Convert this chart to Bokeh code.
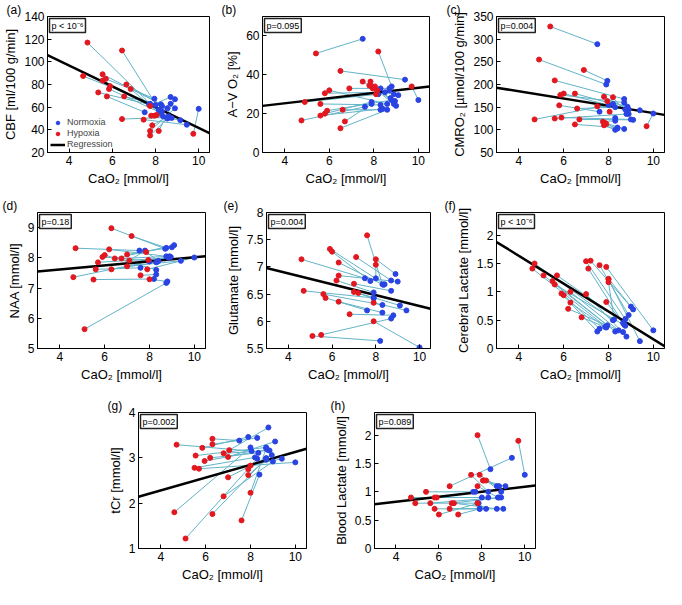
from bokeh.plotting import figure
from bokeh.models import Label, Legend, LegendItem, FixedTicker, Range1d
from bokeh.layouts import column, row
from bokeh.embed import file_html
from bokeh.resources import INLINE

# ---------------- data ----------------
x_ticks = [4, 6, 8, 10]
x_label = "CaO₂ [mmol/l]"

# (a) CBF
a_hx = [4.85, 6.45, 4.65, 5.55, 5.55, 5.7, 5.9, 5.85, 5.35, 5.75, 6.65, 6.85, 6.55, 6.45, 7.45, 7.75, 7.8, 7.85, 7.75, 7.75, 8.15, 7.95, 8.05, 9.75]
a_hy = [117, 110, 87.5, 89, 83.5, 85, 78.5, 76, 73, 69.5, 80, 76, 69.5, 49.5, 49, 61, 52.5, 44, 39, 35, 39, 52.5, 53, 36.5]
a_nx = [7.75, 8.2, 8.0, 8.25, 8.3, 7.95, 8.15, 8.25, 7.7, 7.5, 8.55, 8.35, 8.3, 8.65, 9.45, 8.7, 8.7, 8.6, 8.9, 8.55, 8.9, 9.15, 8.75, 10.0]
a_ny = [63, 57, 62, 62.5, 56, 67.5, 57.5, 55, 62.5, 55.5, 59, 52, 61, 51, 44.5, 69, 63, 52, 59, 50, 67, 48.5, 50.5, 58.5]
a_reg = [106, 37]
a_yticks = [20, 40, 60, 80, 100, 120, 140]

# (b) A-V O2
b_hx = [5.4, 8.2, 6.5, 4.75, 4.9, 5.6, 5.8, 6.0, 6.9, 7.5, 5.6, 5.8, 5.9, 6.6, 6.7, 6.5, 7.85, 7.9, 7.95, 8.05, 8.15, 8.1, 9.7, 7.8]
b_hy = [51, 52, 42, 16.5, 26, 25, 30.5, 32, 33, 36.5, 19, 20, 21.5, 22, 16, 12.5, 36.5, 34, 33, 34, 32, 30, 34, 34.5]
b_nx = [7.5, 8.8, 9.4, 7.6, 8.2, 8.3, 8.5, 8.6, 8.7, 8.75, 8.4, 7.9, 8.8, 8.3, 7.9, 8.6, 9.0, 8.9, 9.1, 8.3, 8.9, 8.7, 10.0, 8.95]
b_ny = [58.5, 34, 37.5, 23.5, 30, 24.5, 31, 25, 33, 28, 22.5, 26, 27, 22, 25, 22, 24, 25, 29.5, 33, 30, 32, 27, 26.5]
b_reg = [24, 34]
b_yticks = [0, 20, 40, 60]

# (c) CMRO2
c_hx = [5.4, 4.9, 6.9, 5.6, 5.85, 6.0, 6.5, 7.8, 8.2, 5.8, 6.6, 7.5, 7.95, 8.05, 4.7, 5.6, 5.9, 6.5, 6.7, 7.8, 7.85, 7.9, 9.7, 7.75]
c_hy = [328, 255, 232, 209, 177, 180, 180, 173, 172, 154, 147, 152, 163, 140, 123, 125, 127, 112, 123, 110, 115, 113, 108, 118]
c_nx = [7.5, 7.9, 7.95, 8.7, 8.7, 8.75, 8.2, 8.9, 8.8, 7.6, 8.3, 9.4, 8.85, 8.3, 8.0, 8.9, 9.0, 8.4, 9.1, 8.3, 8.7, 8.4, 10.0, 8.3]
c_ny = [289, 200, 208, 168, 160, 145, 157, 145, 135, 140, 150, 143, 151, 126, 155, 135, 123, 105, 122, 100, 102, 103, 136, 120]
c_reg = [193, 133]
c_yticks = [50, 100, 150, 200, 250, 300, 350]

# (d) NAA
d_hx = [6.3, 7.2, 4.7, 6.2, 5.9, 6.0, 6.45, 7.0, 6.75, 7.1, 5.7, 7.0, 6.3, 5.6, 7.95, 7.85, 7.9, 7.6, 4.6, 5.5, 8.0, 5.1]
d_hy = [8.98, 8.72, 8.32, 8.28, 8.03, 8.09, 7.98, 8.11, 7.98, 7.91, 7.85, 7.72, 7.62, 7.62, 7.93, 8.19, 7.62, 7.42, 7.36, 7.28, 7.29, 5.64]
d_nx = [8.7, 8.75, 7.55, 8.75, 8.35, 8.3, 9.1, 9.0, 8.9, 7.8, 8.85, 9.4, 8.3, 7.6, 8.95, 8.4, 10.0, 8.3, 8.0, 8.2, 8.8, 8.75]
d_ny = [8.3, 8.33, 8.24, 8.05, 7.87, 7.6, 8.42, 8.35, 8.05, 8.24, 8.0, 7.9, 7.85, 7.67, 8.03, 7.9, 8.01, 7.45, 7.88, 7.3, 7.22, 7.17]
d_reg = [7.55, 8.05]
d_yticks = [5, 6, 7, 8, 9]

# (e) Glutamate
e_hx = [7.6, 5.9, 6.0, 4.6, 7.1, 8.0, 8.0, 6.3, 6.3, 6.2, 7.0, 7.0, 7.2, 4.7, 5.6, 5.7, 6.3, 7.9, 6.8, 7.9, 5.1, 5.5]
e_hy = [7.58, 7.33, 7.28, 7.14, 7.18, 7.14, 7.04, 7.08, 6.84, 6.75, 6.69, 6.54, 6.52, 6.56, 6.5, 6.43, 6.36, 6.34, 6.13, 6.0, 5.73, 5.75]
e_nx = [8.3, 8.4, 7.75, 7.5, 8.7, 8.9, 8.0, 8.35, 9.0, 7.9, 8.7, 7.9, 9.1, 7.9, 8.3, 7.6, 8.3, 9.4, 8.8, 10.0, 8.2, 8.7]
e_ny = [6.68, 6.68, 6.74, 6.79, 6.75, 6.87, 6.79, 6.67, 6.73, 6.53, 6.56, 6.42, 6.29, 6.43, 6.3, 6.2, 6.16, 6.2, 6.11, 5.52, 5.64, 6.05]
e_reg = [6.98, 6.23]
e_yticks = [5.5, 6, 6.5, 7, 7.5, 8]

# (f) Cerebral lactate
f_hx = [4.7, 4.6, 5.1, 5.7, 5.5, 5.6, 5.9, 6.0, 6.3, 6.3, 6.2, 6.8, 7.0, 7.0, 7.2, 7.1, 7.6, 7.9, 8.0, 8.0, 7.9, 8.0]
f_hy = [1.5, 1.41, 1.29, 1.29, 1.19, 1.13, 0.97, 0.94, 1.0, 0.81, 0.70, 0.55, 0.96, 1.54, 1.55, 1.41, 1.47, 1.44, 1.22, 1.17, 0.82, 1.23]
f_nx = [8.2, 7.9, 8.3, 8.7, 7.95, 8.75, 7.5, 7.6, 8.45, 7.85, 8.65, 7.9, 8.8, 8.75, 9.1, 8.65, 8.9, 10.0, 9.4, 8.25, 8.7, 9.0]
f_ny = [0.5, 0.38, 0.3, 0.46, 0.41, 0.4, 0.3, 0.35, 0.32, 0.38, 0.29, 0.37, 0.21, 0.52, 0.69, 0.45, 0.59, 0.32, 0.13, 0.51, 0.42, 0.74]
f_reg = [1.88, 0.04]
f_yticks = [0, 0.5, 1, 1.5, 2]

# (g) tCr
g_hx = [4.7, 6.3, 6.3, 5.85, 5.55, 6.2, 5.95, 6.8, 7.05, 7.0, 5.5, 5.7, 7.0, 8.0, 7.9, 7.9, 8.0, 6.8, 6.3, 4.6, 7.6, 5.1]
g_hy = [3.29, 3.42, 3.3, 3.22, 3.05, 3.0, 2.93, 3.1, 3.17, 3.02, 2.78, 2.76, 2.57, 2.83, 2.75, 2.62, 2.23, 2.15, 1.76, 1.8, 1.62, 1.22]
g_nx = [8.05, 7.5, 8.3, 7.9, 8.7, 8.35, 8.75, 8.85, 8.8, 9.1, 8.2, 10.0, 8.95, 9.4, 8.7, 8.7, 8.7, 9.0, 8.7, 8.0, 8.4, 8.3]
g_ny = [3.15, 3.38, 3.44, 3.46, 3.23, 3.11, 3.18, 3.16, 3.67, 3.36, 3.01, 2.9, 3.06, 2.98, 2.99, 2.96, 3.21, 2.92, 2.99, 3.23, 2.63, 2.98]
g_reg = [2.14, 3.2]
g_yticks = [1, 2, 3, 4]

# (h) Blood lactate
h_hx = [7.8, 9.7, 6.5, 7.5, 7.9, 8.05, 8.1, 8.2, 7.8, 5.4, 4.7, 5.8, 5.9, 4.9, 5.6, 6.6, 6.7, 7.8, 5.8, 6.5, 6.0, 6.9]
h_hy = [2.0, 1.9, 1.1, 1.3, 1.3, 1.2, 1.2, 1.2, 1.1, 1.0, 0.9, 0.9, 0.9, 0.8, 0.8, 0.8, 0.8, 0.8, 0.7, 0.7, 0.6, 0.6]
h_nx = [8.4, 10.0, 9.4, 8.3, 8.7, 8.8, 9.1, 8.9, 8.75, 7.6, 8.3, 8.0, 7.7, 7.8, 8.8, 8.9, 8.7, 8.2, 7.9, 9.0, 7.85, 7.9]
h_ny = [1.4, 1.3, 1.6, 1.0, 1.1, 1.1, 1.1, 1.0, 0.9, 1.0, 0.9, 0.9, 1.0, 0.8, 0.9, 0.9, 0.7, 0.7, 0.7, 0.7, 0.8, 0.7]
h_reg = [0.78, 1.11]
h_yticks = [0, 0.5, 1, 1.5, 2]

# ---------------- styling ----------------
FONT = "Liberation Sans"
RED = "#e3171f"
BLUE = "#2a43e3"
LINK = "#62b4c8"
X_RANGE = (3, 10.5)


def fmt(v):
    return ("%g" % v)


def panel(letter, hx, hy, nx, ny, reg, yr, yticks, ylabel, ptext,
          w, h, bl, br, bt, bb, letter_dx, legend=False):
    p = figure(width=w, height=h, x_range=Range1d(*X_RANGE), y_range=Range1d(*yr),
               output_backend="svg", toolbar_location=None,
               min_border_left=bl, min_border_right=br,
               min_border_top=bt, min_border_bottom=bb)
    p.grid.visible = False
    p.outline_line_color = "black"
    p.outline_line_alpha = 1.0
    p.background_fill_color = "white"
    p.border_fill_color = "white"

    # panel letter as a left-shifted title
    p.title.text = "(%s)" % letter
    p.title.align = "left"
    p.title.offset = letter_dx
    p.title.standoff = 0
    p.title.text_font = FONT
    p.title.text_font_size = "12px"
    p.title.text_font_style = "normal"
    p.title.text_color = "black"

    p.segment(x0=hx, y0=hy, x1=nx, y1=ny, line_color=LINK, line_width=1)
    rl = p.line(x=list(X_RANGE), y=reg, line_color="black", line_width=2.5)
    rb = p.scatter(x=nx, y=ny, size=5, fill_color=BLUE, line_color=BLUE)
    rr = p.scatter(x=hx, y=hy, size=5, fill_color=RED, line_color=RED)

    p.xaxis.ticker = FixedTicker(ticks=x_ticks)
    p.yaxis.ticker = FixedTicker(ticks=yticks)
    p.yaxis.major_label_overrides = {t: fmt(t) for t in yticks}
    p.xaxis.major_label_overrides = {t: fmt(t) for t in x_ticks}
    p.xaxis.axis_label = x_label
    p.yaxis.axis_label = ylabel
    for ax in (p.xaxis[0], p.yaxis[0]):
        ax.major_tick_in = 4
        ax.major_tick_out = 0
        ax.minor_tick_line_color = None
        ax.axis_line_color = "black"
        ax.major_tick_line_color = "black"
        ax.major_label_text_font = FONT
        ax.major_label_text_font_size = "12px"
        ax.major_label_text_color = "black"
        ax.axis_label_text_font = FONT
        ax.axis_label_text_font_size = "13px"
        ax.axis_label_text_font_style = "normal"
        ax.axis_label_text_color = "black"
        ax.major_label_standoff = 3
        ax.axis_label_standoff = 3

    # p-value box
    p.add_layout(Label(x=X_RANGE[0], y=yr[1], x_offset=2, y_offset=-2,
                       text=ptext, text_font=FONT, text_font_size="9px",
                       text_align="left", text_baseline="top", text_color="black",
                       background_fill_color="white", border_line_color="#222222",
                       border_line_width=1.5, padding=2))

    if legend:
        leg = Legend(items=[LegendItem(label="Normoxia", renderers=[rb]),
                            LegendItem(label="Hypoxia", renderers=[rr]),
                            LegendItem(label="Regression", renderers=[rl])],
                     location="bottom_left")
        leg.label_text_font = FONT
        leg.label_text_font_size = "9px"
        leg.label_height = 9
        leg.glyph_height = 9
        leg.glyph_width = 15
        leg.spacing = 1
        leg.padding = 2
        leg.margin = 3
        leg.label_standoff = 2
        leg.border_line_color = None
        leg.background_fill_alpha = 0
        p.add_layout(leg)
    return p


pa = panel("a", a_hx, a_hy, a_nx, a_ny, a_reg, (20, 140), a_yticks, "CBF [ml/100 g/min]", "p < 10⁻⁶",
           222, 196, 41, 13, 14, 44, -41, legend=True)
pb = panel("b", b_hx, b_hy, b_nx, b_ny, b_reg, (0, 70), b_yticks, "A−V O₂ [%]", "p=0.095",
           222, 196, 39, 15, 14, 44, -41)
pc = panel("c", c_hx, c_hy, c_nx, c_ny, c_reg, (50, 350), c_yticks, "CMRO₂ [µmol/100 g/min]", "p=0.004",
           222, 196, 52, 2, 14, 44, -50)
pd = panel("d", d_hx, d_hy, d_nx, d_ny, d_reg, (5, 9.5), d_yticks, "NAA [mmol/l]", "p=0.18",
           222, 200, 37, 17, 14, 48, -35)
pe = panel("e", e_hx, e_hy, e_nx, e_ny, e_reg, (5.5, 8), e_yticks, "Glutamate [mmol/l]", "p=0.004",
           222, 200, 40, 14, 14, 48, -43)
pf = panel("f", f_hx, f_hy, f_nx, f_ny, f_reg, (0, 2.4), f_yticks, "Cerebral Lactate [mmol/l]", "p < 10⁻⁶",
           222, 200, 52, 2, 14, 48, -52)
pg = panel("g", g_hx, g_hy, g_nx, g_ny, g_reg, (1, 4), g_yticks, "tCr [mmol/l]", "p=0.002",
           330, 193, 138, 24, 14, 41, -31)
ph = panel("h", h_hx, h_hy, h_nx, h_ny, h_reg, (0, 2.4), h_yticks, "Blood Lactate [mmol/l]", "p=0.089",
           336, 193, 37, 131, 14, 41, -44)

layout = column(row(pa, pb, pc), row(pd, pe, pf), row(pg, ph))

open("out.html", "w").write(file_html(layout, INLINE))
